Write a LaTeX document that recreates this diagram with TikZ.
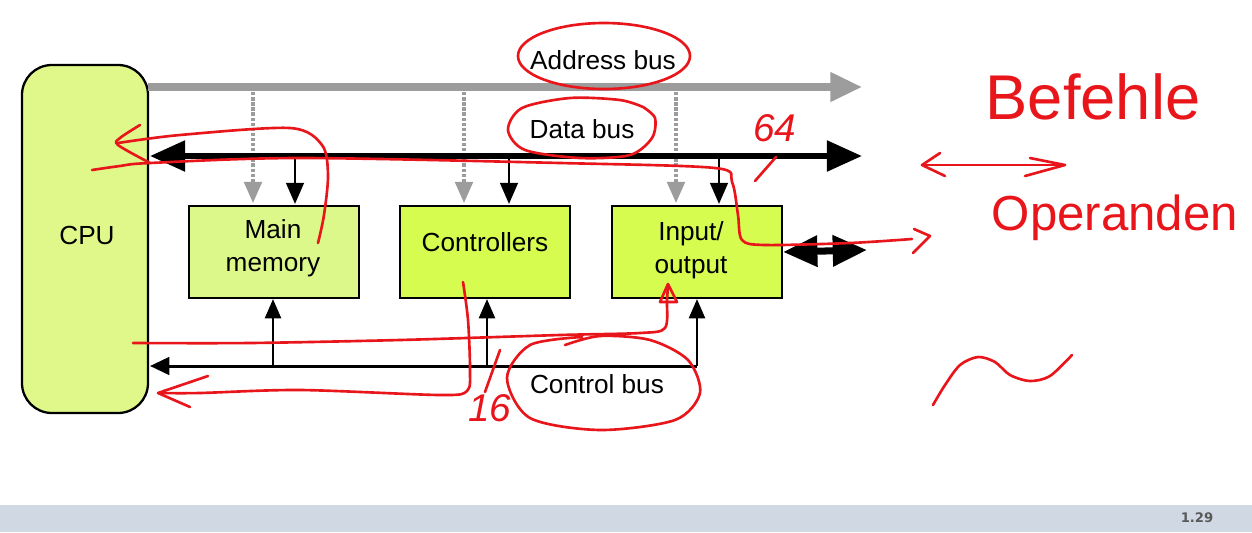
\documentclass[tikz,border=0pt]{standalone}
\usepackage{fontspec}
\setmainfont{Liberation Sans}
\newfontfamily\slidefont{DejaVu Sans}
\usetikzlibrary{arrows.meta}
\definecolor{cpufill}{HTML}{E0F88A}
\definecolor{memfill}{HTML}{DDF88A}
\definecolor{ctlfill}{HTML}{D5FC4E}
\definecolor{barfill}{HTML}{CFD8E3}
\definecolor{addrgray}{HTML}{9C9C9C}
\definecolor{ink}{HTML}{E8161B}
\tikzset{
  lbl/.style={font=\fontsize{14.9}{18.7}\selectfont, align=center, inner sep=0pt},
  unitbox/.style={draw=black, line width=1.3pt, minimum width=170*0.02cm, minimum height=92*0.02cm},
  addrbus/.style={draw=addrgray, line width=4pt, -{Triangle[length=18pt,width=16pt,fill=addrgray]}},
  addrtap/.style={draw=addrgray, line width=1.9pt, densely dotted, -{Triangle[length=12pt,width=10pt,fill=addrgray]}},
  databus/.style={draw=black, line width=3.4pt, {Triangle[length=20pt,width=17pt]}-{Triangle[length=20pt,width=17pt]}},
  datatap/.style={draw=black, line width=1.5pt, -{Triangle[length=12pt,width=10pt]}},
  ctlbus/.style={draw=black, line width=1.7pt, -{Triangle[length=11pt,width=10pt]}},
  ctltap/.style={draw=black, line width=1.7pt, -{Triangle[length=11pt,width=9pt]}},
  iobus/.style={draw=black, line width=4pt, {Triangle[length=19.5pt,width=17pt]}-{Triangle[length=19.5pt,width=17pt]}},
  pen/.style={draw=ink, line width=1.5pt, line cap=round, line join=round},
  hand/.style={text=ink, inner sep=0pt},
}
\begin{document}
\begin{tikzpicture}[x=0.02cm,y=-0.02cm]
\useasboundingbox (0,0) rectangle (1252,532);
\fill[white] (0,0) rectangle (1252,532);
% footer bar
\fill[barfill] (0,505) rectangle (1252,532);
\node[font=\slidefont\bfseries\fontsize{7.5}{9}\selectfont, text=black!65, inner sep=0pt] (pg) at (1197,518) {1.29};

% CPU and units
\node[draw=black, line width=1.3pt, fill=cpufill, rounded corners=17pt, minimum width=126*0.02cm, minimum height=348*0.02cm] (cpu) at (85,239) {};
\node[unitbox, fill=memfill] (mem) at (274,252) {};
\node[unitbox, fill=ctlfill] (ctl) at (485,252) {};
\node[unitbox, fill=ctlfill] (io) at (697,252) {};
\node[lbl] (cpulab) at (87,235) {CPU};
\node[lbl] (memlab) at (273,248.5) {Main\\memory};
\node[lbl] (ctllab) at (485,242) {Controllers};
\node[lbl] (iolab) at (691,250) {Input/\\output};

% coordinates for buses
\coordinate (a0) at (148,87);
\coordinate (a1) at (862,87);
\coordinate (d0) at (150,156);
\coordinate (d1) at (862,156);
\coordinate (c0) at (150,366);
\coordinate (c1) at (697,366);
\coordinate (io1) at (867,250);

% address bus
\draw[addrbus] (a0) -- (a1);
\foreach \x in {253,464,676}
  \draw[addrtap] (\x,87) -- (\x,203);
% data bus
\draw[databus] (d0) -- (d1);
\foreach \x in {295,509,719}
  \draw[datatap] (\x,156) -- (\x,204);
% control bus
\draw[ctlbus] (c1) -- (c0);
\foreach \x in {273,487}
  \draw[ctltap] (\x,366) -- (\x,299);
\draw[ctltap] (c1) -- (697,299);
% io double arrow
\draw[iobus] (io.east) -- (io1);

% bus labels
\node[lbl] (alab) at (603,60) {Address bus};
\node[lbl] (dlab) at (582,129) {Data bus};
\node[lbl] (clab) at (597,384) {Control bus};

% ---- red handwriting ----
\draw[pen] (604,56) ellipse [x radius=86, y radius=33];
\draw[pen] plot[smooth] coordinates {(643,107) (655,118) (652,138) (630,155) (580,158) (525,150) (508,130) (522,108) (570,98) (620,100) (643,107)};
\draw[pen] plot[smooth] coordinates {(582,337) (530,345) (507,378) (530,418) (600,430) (675,420) (700,393) (688,360) (650,340) (600,336) (565,345)};
% 64 and 16
\node[hand, font=\fontsize{22}{22}\selectfont\itshape] (n64) at (775,128) {64};
\draw[pen] (755,181) -- (776,157);
\node[hand, font=\fontsize{22}{22}\selectfont\itshape] (n16) at (490,408) {16};
\draw[pen] (500,350) -- (485,392);

% curve 1: CPU along data bus to io and out
\draw[pen] plot[smooth] coordinates {(92,170) (120,166) (150,163) (300,158) (560,163) (715,168) (732,182) (738,215) (742,240) (765,245) (850,243) (912,239)};
\draw[pen] (914,229) -- (930,236) -- (913,253);
% curve 2: loop to main memory
\draw[pen] plot[smooth] coordinates {(140,125) (120,138) (118,145) (150,163)};
\draw[pen] plot[smooth] coordinates {(118,143) (180,135) (290,128) (322,145) (328,175) (324,215) (318,243)};
% curve 3: CPU to io bottom
\draw[pen] plot[smooth] coordinates {(133,343) (250,343) (400,340) (560,335) (640,333) (665,328) (667,300) (668,285)};
\draw[pen] (660,302) -- (668,284) -- (677,302) -- (660,302);
% curve 4: controllers back to CPU
\draw[pen] plot[smooth] coordinates {(463,282) (468,320) (470,370) (467,391) (440,395) (300,390) (200,393) (160,393)};
\draw[pen] (208,376) -- (158,393) -- (190,407);

% right notes
\node[hand, font=\fontsize{36}{36}\selectfont] (befehle) at (1093,97) {Befehle};
\draw[pen] (922,165) -- (1065,165);
\draw[pen] (940,153) -- (922,165) -- (945,176);
\draw[pen] (1030,158) -- (1065,165) -- (1025,176);
\node[hand, font=\fontsize{28}{28}\selectfont] (operanden) at (1115,218) {Operanden};
\draw[pen] plot[smooth] coordinates {(933,405) (945,385) (960,365) (978,357) (995,362) (1010,375) (1030,381) (1050,376) (1072,355)};
\end{tikzpicture}
\end{document}
